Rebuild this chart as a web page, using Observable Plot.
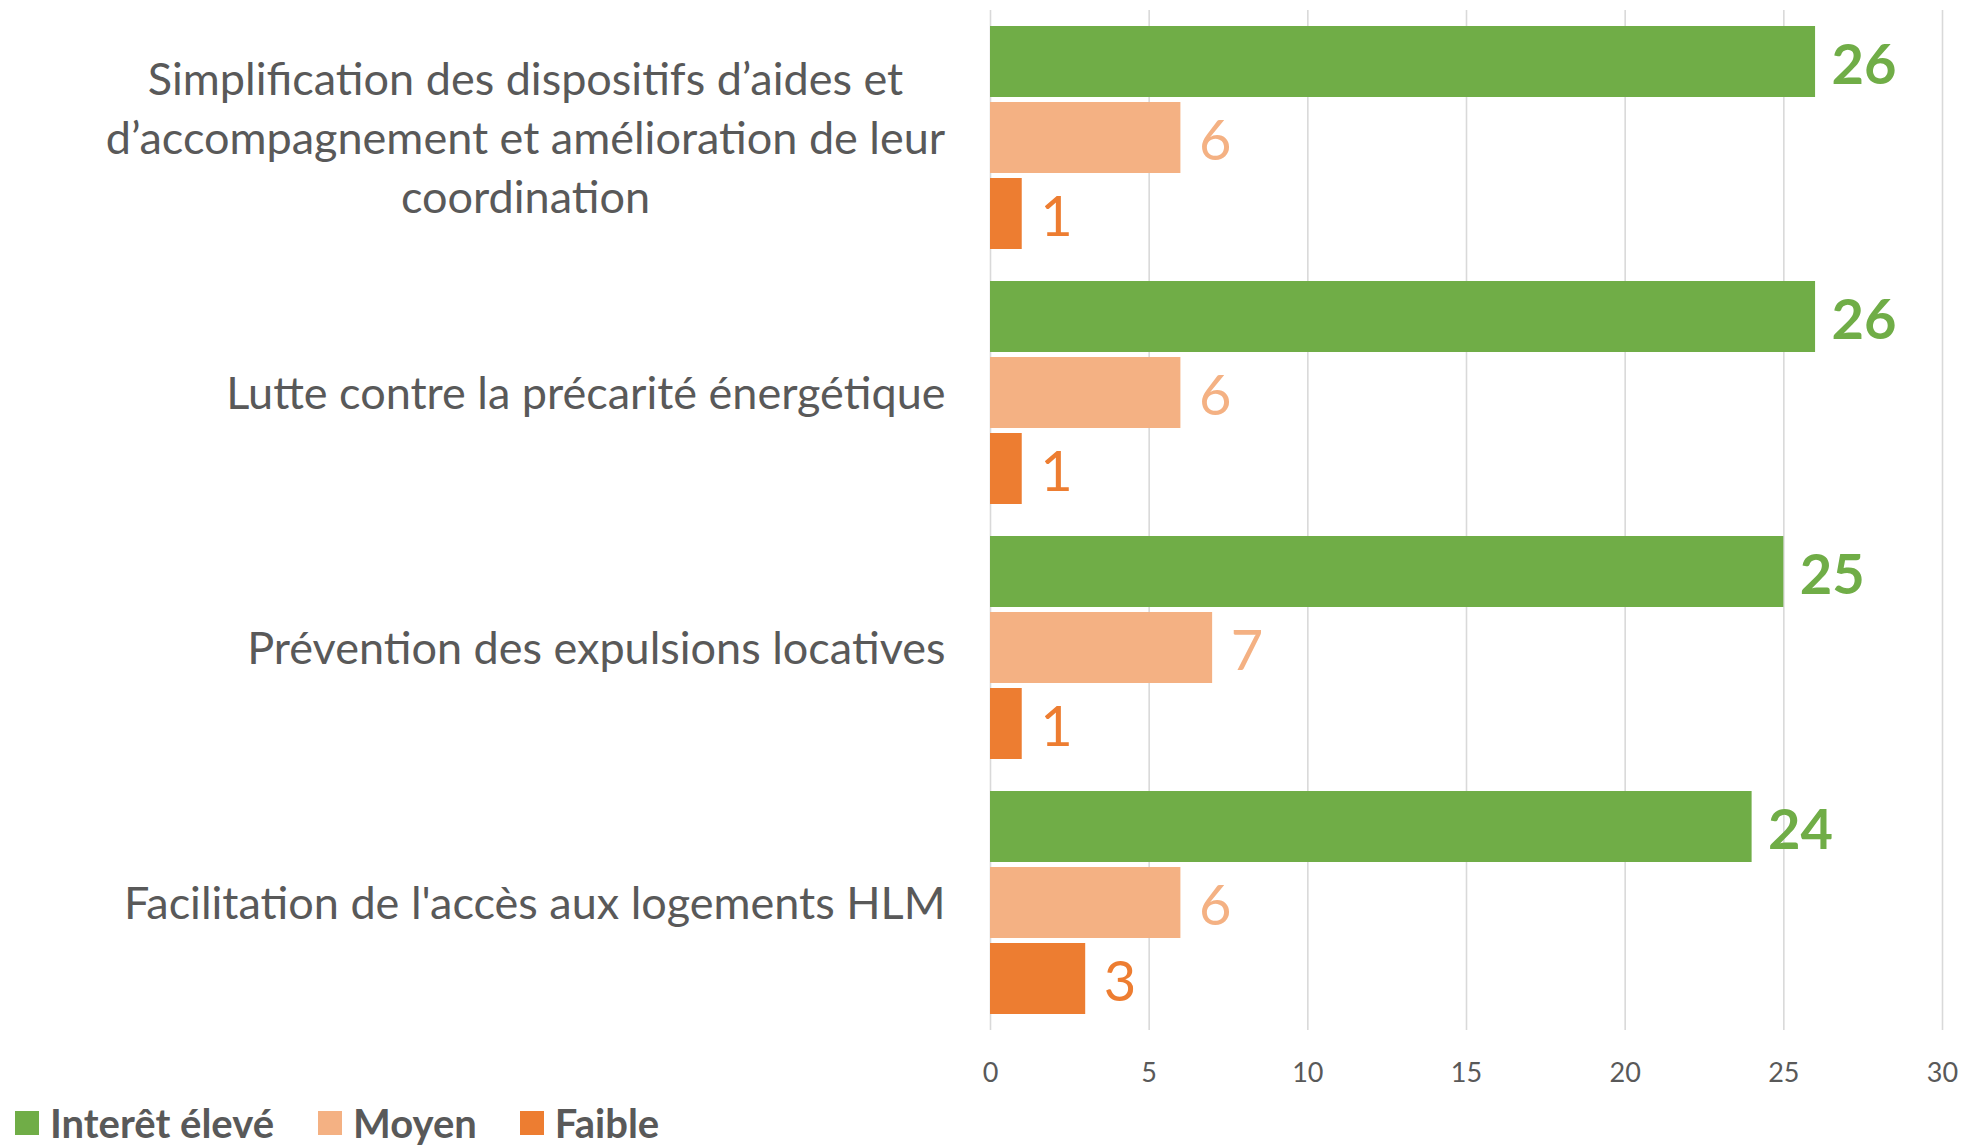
<!DOCTYPE html>
<html>
<head>
<meta charset="utf-8">
<script src="https://cdn.jsdelivr.net/npm/d3@7"></script>
<script src="https://cdn.jsdelivr.net/npm/@observablehq/plot@0.6"></script>
<style>
  html, body { margin: 0; padding: 0; background: #fff; }
  body { width: 1963px; height: 1146px; overflow: hidden; font-family: Lato, "Noto Sans", sans-serif; }
  #legend { display: flex; align-items: center; height: 44px; padding-left: 15px; margin-top: 1px; }
  .item { display: flex; align-items: center; }
  .sw { width: 24px; height: 24px; display: inline-block; margin-right: 11px; }
  .lab { font-weight: bold; font-size: 40px; color: #595959; line-height: 44px; }
</style>
</head>
<body>
<div id="chart"></div>
<div id="legend"></div>
<script>
const categories = [
  "Simplification des dispositifs d’aides et\nd’accompagnement et amélioration de leur\ncoordination",
  "Lutte contre la précarité énergétique",
  "Prévention des expulsions locatives",
  "Facilitation de l'accès aux logements HLM"
];
const series = ["Interêt élevé", "Moyen", "Faible"];
const eleve = [26, 26, 25, 24];
const moyen = [6, 6, 7, 6];
const faible = [1, 1, 1, 3];
const colors = ["#70AD47", "#F4B183", "#ED7D31"];
const xTicks = [0, 5, 10, 15, 20, 25, 30];

const seriesValues = [eleve, moyen, faible];
const rows = categories.flatMap((c, i) =>
  series.map((s, j) => ({cat: c, series: s, value: seriesValues[j][i]}))
);

const FONT = "Lato, 'Noto Sans', sans-serif";

const chart = Plot.plot({
  width: 1963,
  height: 1100,
  marginLeft: 990,
  marginRight: 21,
  marginTop: 10,
  marginBottom: 70,
  style: {fontFamily: FONT, color: "#595959", background: "white", overflow: "visible"},
  x: {domain: [0, 30], label: null},
  fy: {domain: categories, padding: 0, label: null, axis: null},
  y: {domain: series, paddingInner: 0.06, paddingOuter: 0.207, axis: null, label: null},
  color: {domain: series, range: colors},
  marks: [
    Plot.gridX(xTicks, {stroke: "#D9D9D9", strokeOpacity: 1, strokeWidth: 1.6}),
    Plot.barX(rows, {x: "value", y: "series", fy: "cat", fill: "series"}),
    Plot.text(rows.filter(d => d.series === series[0]), {
      x: "value", y: "series", fy: "cat", text: d => String(d.value),
      fill: "series", textAnchor: "start", dx: 16, dy: 4, fontSize: 56, fontWeight: "bold"
    }),
    Plot.text(rows.filter(d => d.series !== series[0]), {
      x: "value", y: "series", fy: "cat", text: d => String(d.value),
      fill: "series", textAnchor: "start", dx: 18, dy: 4, fontSize: 56
    }),
    Plot.axisX({ticks: xTicks, tickSize: 0, tickPadding: 32, fontSize: 27, label: null, fill: "#595959"}),
    Plot.axisFy({ticks: categories.slice(1), anchor: "left", tickSize: 0, tickPadding: 45, dy: 2,
      fontSize: 45, textAnchor: "end", label: null, fill: "#595959"}),
    Plot.axisFy({ticks: categories.slice(0, 1), anchor: "left", tickSize: 0, tickPadding: 0, dx: -465, dy: -3,
      fontSize: 45, textAnchor: "middle", lineHeight: 1.31, label: null, fill: "#595959"})
  ]
});
document.getElementById("chart").appendChild(chart);

const legend = document.getElementById("legend");
const gaps = [0, 44, 43];
series.forEach((s, i) => {
  const item = document.createElement("div");
  item.className = "item";
  item.style.marginLeft = gaps[i] + "px";
  const sw = document.createElement("span");
  sw.className = "sw";
  sw.style.background = colors[i];
  const lab = document.createElement("span");
  lab.className = "lab";
  lab.textContent = s;
  item.appendChild(sw);
  item.appendChild(lab);
  legend.appendChild(item);
});
</script>
</body>
</html>
